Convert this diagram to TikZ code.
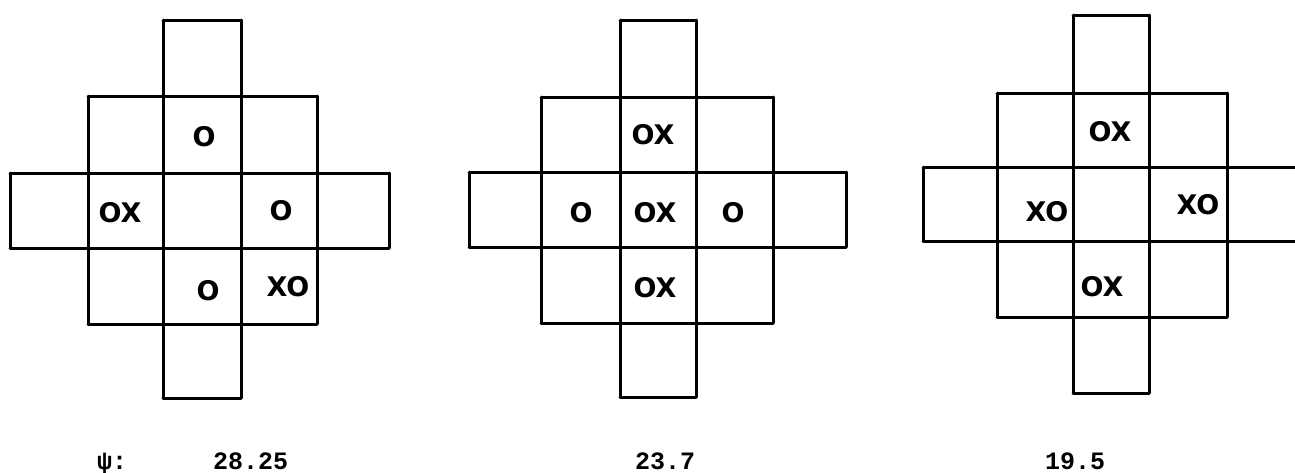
\documentclass[tikz,border=0pt]{standalone}
\usepackage{fontspec}
\newfontfamily\handfont{DejaVu Sans}
\newfontfamily\monofont{Liberation Mono}
\tikzset{
  gridline/.style={line width=3pt, line cap=round, line join=round, black},
  cellmark/.style={inner sep=0pt, font=\handfont\bfseries\fontsize{27}{27}\selectfont},
  valuetext/.style={inner sep=0pt, anchor=base west, font=\monofont\bfseries\fontsize{25}{25}\selectfont}
}
\newcommand\defgrid[3]{%
  \foreach \v [count=\i from 0] in {#2} {\coordinate (#1x\i) at (\v,0);}
  \foreach \v [count=\i from 0] in {#3} {\coordinate (#1y\i) at (0,\v);}
}
\newcommand\crossgrid[1]{%
  \draw[gridline]
    (#1x2|-#1y0) -- (#1x3|-#1y0)
    (#1x1|-#1y1) -- (#1x4|-#1y1)
    (#1x0|-#1y2) -- (#1x5|-#1y2)
    (#1x0|-#1y3) -- (#1x5|-#1y3)
    (#1x1|-#1y4) -- (#1x4|-#1y4)
    (#1x2|-#1y5) -- (#1x3|-#1y5)
    (#1x0|-#1y2) -- (#1x0|-#1y3)
    (#1x1|-#1y1) -- (#1x1|-#1y4)
    (#1x2|-#1y0) -- (#1x2|-#1y5)
    (#1x3|-#1y0) -- (#1x3|-#1y5)
    (#1x4|-#1y1) -- (#1x4|-#1y4)
    (#1x5|-#1y2) -- (#1x5|-#1y3);%
}
\begin{document}
\begin{tikzpicture}[x=1pt,y=-1pt]
\clip (0,0) rectangle (1295,472);
\fill[white] (0,0) rectangle (1295,472);
% grid coordinates
\defgrid{ga}{10,88,163,241,317,389}{20,96,173,248,324,398}
\defgrid{gb}{469,541,620,696,773,846}{20,97,172,247,323,397}
\defgrid{gc}{923,997,1073,1149,1227,1310}{15,93,167,241,317,393}
\crossgrid{ga}
\crossgrid{gb}
\crossgrid{gc}
% marks, grid 1
\node[cellmark] (a1) at (204,137) {O};
\node[cellmark] (a2) at (120,213) {OX};
\node[cellmark] (a3) at (281,211) {O};
\node[cellmark] (a4) at (208,291) {O};
\node[cellmark] (a5) at (288,287) {XO};
% marks, grid 2
\node[cellmark] (b1) at (653,135) {OX};
\node[cellmark] (b2) at (581,213) {O};
\node[cellmark] (b3) at (655,213) {OX};
\node[cellmark] (b4) at (733,213) {O};
\node[cellmark] (b5) at (655,288) {OX};
% marks, grid 3
\node[cellmark] (c1) at (1110,132) {OX};
\node[cellmark] (c2) at (1047,212) {XO};
\node[cellmark] (c3) at (1198,205) {XO};
\node[cellmark] (c4) at (1102,287) {OX};
% values
\node[valuetext] (psi) at (97,469) {ψ:};
\node[valuetext] (v1) at (213,469) {28.25};
\node[valuetext] (v2) at (635,469) {23.7};
\node[valuetext] (v3) at (1045,469) {19.5};
\end{tikzpicture}
\end{document}
